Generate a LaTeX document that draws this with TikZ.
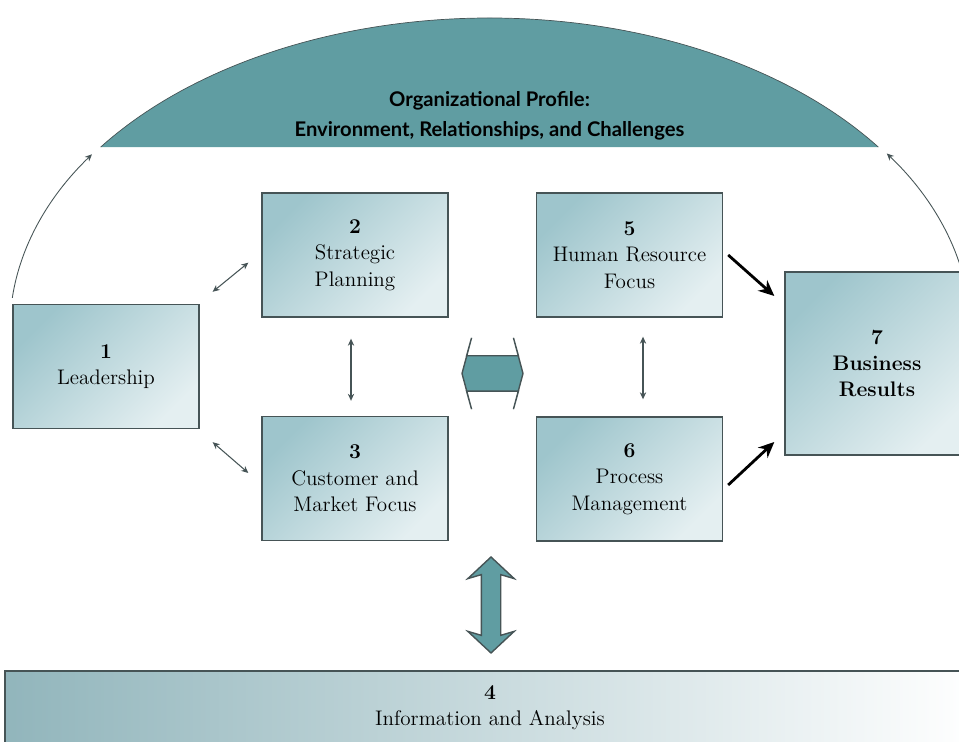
\documentclass[tikz,border=0pt]{standalone}
\usepackage{fontspec}
\setsansfont{Lato}
\usetikzlibrary{arrows.meta,shapes.arrows,positioning}
\definecolor{boxteal}{RGB}{158,197,204}
\definecolor{boxwhite}{RGB}{228,239,241}
\definecolor{dometeal}{RGB}{96,157,162}
\definecolor{rimgray}{RGB}{70,84,86}
\tikzset{%
    >={Stealth[length=4pt,width=3.6pt]},
    cat/.style={draw=rimgray,line width=0.8pt,top color=boxteal,bottom color=boxwhite,
        shading angle=45,align=center,inner sep=0pt,minimum width=3.72cm,
        minimum height=2.48cm,font=\fontsize{12}{15}\selectfont},
    bigcat/.style={cat,minimum width=3.68cm,minimum height=3.66cm,
        font=\fontsize{12}{15}\selectfont\bfseries},
    bar/.style={cat,left color=boxteal!92!black,right color=white,
        minimum width=19.4cm,minimum height=1.46cm},
    link/.style={<->,draw=rimgray,line width=0.6pt},
    feed/.style={-{Stealth[length=9pt,width=8pt]},line width=1.6pt},
    bigarrow/.style={double arrow,draw=rimgray,fill=dometeal,line width=0.8pt,
        inner xsep=0pt},
    rimarrow/.style={->,draw=rimgray,line width=0.5pt}
}

\begin{document}
\begin{tikzpicture}[x=0.02cm,y=0.02cm]
            \useasboundingbox (0,0) rectangle (959,742);
            \clip (0,0) rectangle (959,742);
            \coordinate (hub) at (489.5,412);
            %%%%% profile dome
            \fill[dometeal] ([shift={(35.9:480 and 312)}]hub) arc[start angle=35.9,
            end angle=144.1,x radius=480,y radius=312] -- cycle;
            \draw[rimgray,line width=0.4pt] ([shift={(35.9:480 and 312)}]hub) arc[start angle=35.9,
            end angle=144.1,x radius=480,y radius=312];
            \node[align=center,font=\fontsize{11.5}{17}\selectfont\sffamily\bfseries] (profile)
            at (489.5,626) {Organizational Profile:\\Environment, Relationships, and Challenges};
            %%%%% categories
            \node[cat] (cat-1) at (106,375.5) {\textbf{1}\\Leadership};
            \node[cat] (cat-2) at (355,487) {\textbf{2}\\Strategic\\Planning};
            \node[cat] (cat-3) at (355,263.5) {\textbf{3}\\Customer and\\Market Focus};
            \node[bar] (cat-4) at (490,34.5) {\textbf{4}\\Information and Analysis};
            \node[cat] (cat-5) at (629.5,487) {\textbf{5}\\Human Resource\\Focus};
            \node[cat] (cat-6) at (629.5,263) {\textbf{6}\\Process\\Management};
            \node[bigcat] (cat-7) at (877,378.5) {7\\Business\\Results};
            %%%%% big arrows
            \node[bigarrow,minimum height=1.22cm,inner ysep=0.34cm,double arrow head indent=0.1cm,
            double arrow head extend=0.36cm,double arrow tip angle=150] (swap) at (492.5,368.5) {};
            \node[bigarrow,rotate=90,minimum height=1.92cm,inner ysep=0.18cm,double arrow head indent=0.08cm,
            double arrow head extend=0.27cm,double arrow tip angle=94] (share) at (491,137) {};
            %%%%% links
            \draw[link] ([shift={(13,12)}]cat-1.north east) -- ([shift={(-13,55)}]cat-2.south west);
            \draw[link] ([shift={(13,-13)}]cat-1.south east) -- ([shift={(-13,5.5)}]cat-3.west);
            \draw[link] ([shift={(-4,-21)}]cat-2.south) -- ([shift={(-4,15)}]cat-3.north);
            \draw[link] ([shift={(13.5,-19)}]cat-5.south) -- ([shift={(13.5,17)}]cat-6.north);
            \draw[feed] ([shift={(5,0)}]cat-5.east) -- ([shift={(-10,67.5)}]cat-7.west);
            \draw[feed] ([shift={(5,-6)}]cat-6.east) -- ([shift={(-10,-78.5)}]cat-7.west);
            %%%%% rim
            \draw[rimarrow] ([shift={(0,6)}]cat-1.north west) arc[start angle=174.3,
            end angle=146,x radius=480,y radius=312];
            \draw[rimarrow] ([shift={(-6,-6.5)}]cat-7.north east) arc[start angle=9.5,
            end angle=34.3,x radius=480,y radius=312];
\end{tikzpicture}
\end{document}
